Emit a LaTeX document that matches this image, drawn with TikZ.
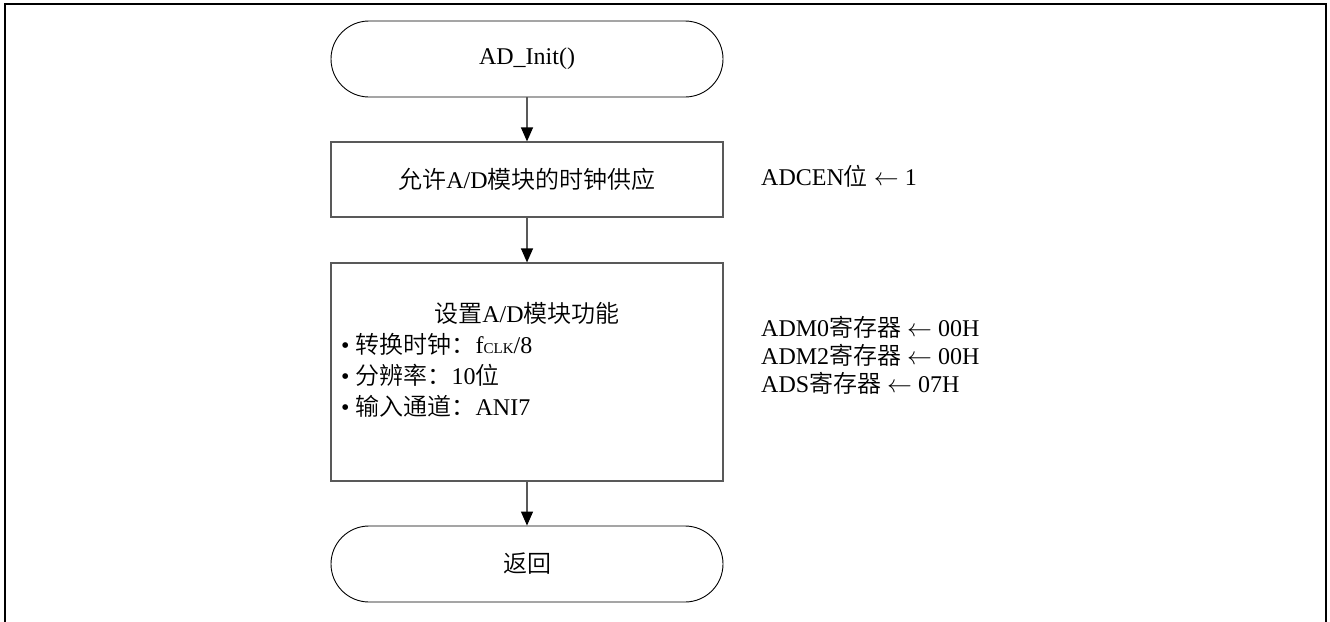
\documentclass[tikz,border=0pt]{standalone}
\usepackage{fontspec}
\setmainfont{Liberation Serif}
\newfontfamily\cjk{Noto Sans CJK SC DemiLight}
\usetikzlibrary{arrows.meta}
\begin{document}
\begin{tikzpicture}[x=1pt,y=-1pt,
  font=\fontsize{24}{28}\selectfont,
  term/.style={draw=black, line width=0.9pt, rounded corners=38pt,
    minimum width=392pt, minimum height=76pt, inner sep=0pt},
  procbox/.style={draw=black!65, line width=1.2pt, minimum width=392pt, inner sep=0pt},
  flow/.style={draw=black!65, line width=1.2pt, -{Triangle[length=14pt,width=12pt,black]}},
  lbl/.style={anchor=west, inner sep=0pt, text height=17pt, text depth=5pt},
  txt/.style={inner sep=0pt, text height=17pt, text depth=5pt}]
\useasboundingbox (0,0) rectangle (1330,621);
\draw[line width=2pt] (5,622) -- (5,4.3) -- (1326,4.3) -- (1326,622);

\node[term] (start) at (527,59) {AD\_Init()};
\node[procbox, minimum height=75pt] (clk) at (527,179.5) {{\cjk 允许}A/D{\cjk 模块的时钟供应}};
\node[procbox, minimum height=218pt] (set) at (527,372) {};
\node[term] (ret) at (527,564) {{\cjk 返回}};

\draw[flow] (start) -- (clk);
\draw[flow] (clk) -- (set);
\draw[flow] (set) -- (ret);

\node[txt] (title) at (527,316) {{\cjk 设置}A/D{\cjk 模块功能}};
\node[lbl] (b1) at (341,347) {• {\cjk 转换时钟：}f{\fontsize{15}{15}\selectfont CLK}/8};
\node[lbl] (b2) at (341,378) {• {\cjk 分辨率：}10{\cjk 位}};
\node[lbl] (b3) at (341,409) {• {\cjk 输入通道：}ANI7};

\node[lbl] (r0) at (761,179.5) {ADCEN{\cjk 位} $\leftarrow$ 1};
\node[lbl] (r1) at (761,330) {ADM0{\cjk 寄存器} $\leftarrow$ 00H};
\node[lbl] (r2) at (761,358) {ADM2{\cjk 寄存器} $\leftarrow$ 00H};
\node[lbl] (r3) at (761,386) {ADS{\cjk 寄存器} $\leftarrow$ 07H};
\end{tikzpicture}
\end{document}
